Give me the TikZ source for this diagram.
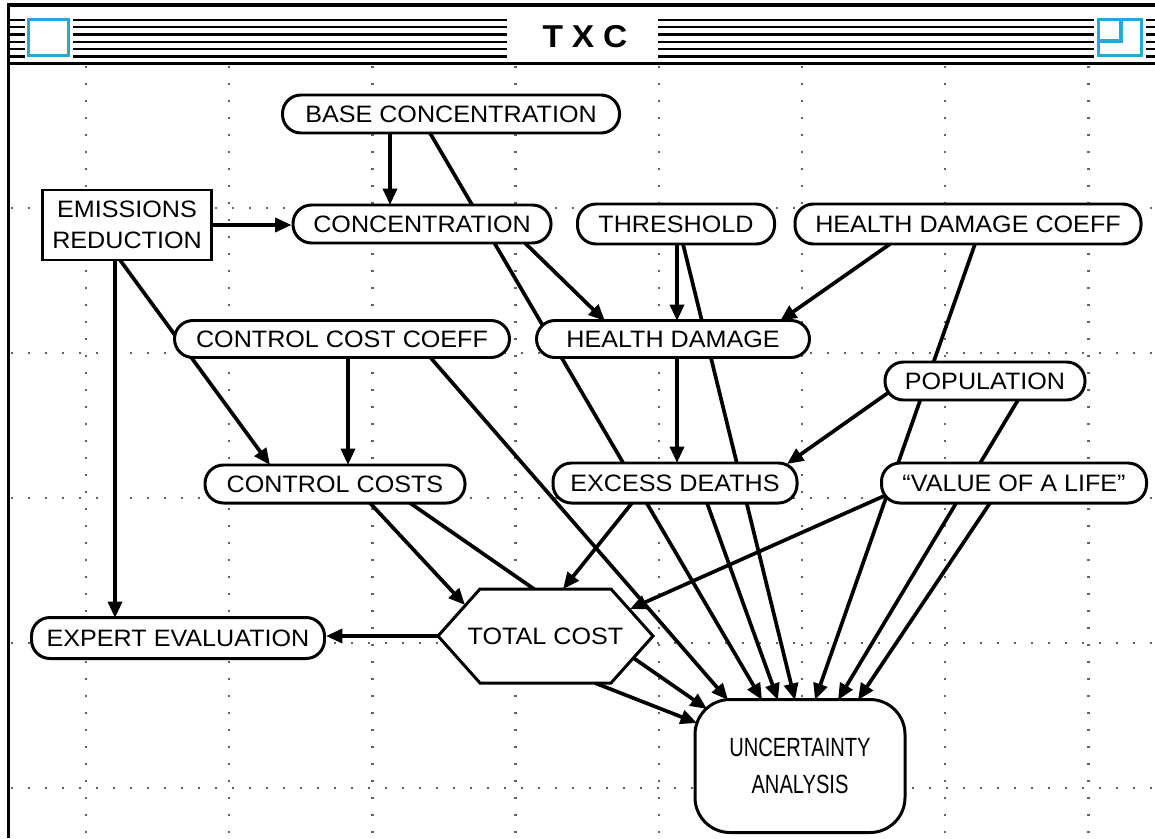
\documentclass[tikz,border=0pt]{standalone}
\usepackage{fontspec}
\setmainfont{Liberation Sans}[FakeStretch=1.06]
\usetikzlibrary{arrows.meta,calc}
\definecolor{iconblue}{RGB}{38,166,218}
\definecolor{dotgray}{RGB}{100,100,100}
\pgfdeclarelayer{gridlayer}
\pgfdeclarelayer{edgelayer}
\pgfsetlayers{gridlayer,edgelayer,main}
\begin{document}
\begin{tikzpicture}[x=0.02cm,y=-0.02cm,
  lbl/.style={font=\fontsize{13.5}{17.5}\selectfont, inner sep=0pt, align=center},
  rbox/.style n args={2}{lbl, draw, line width=1.7pt, fill=white, rounded corners=0.37cm,
     minimum width=#1*0.02cm, minimum height=#2*0.02cm},
  sqbox/.style n args={2}{lbl, draw, line width=1.7pt, fill=white,
     minimum width=#1*0.02cm, minimum height=#2*0.02cm},
  arr/.style={line width=2.1pt, -{Triangle[length=0.33cm,width=0.28cm]}},
  dots/.style={dotgray, line width=0.05cm, dash pattern=on 0.05cm off 0.29cm},
  stripe/.style={line width=0.045cm},
  frame/.style={line width=0.065cm},
  icon/.style={iconblue, line width=0.07cm}
]
\useasboundingbox (0,0) rectangle (1155,838);

% ---------- grid ----------
\begin{pgfonlayer}{gridlayer}
\foreach \gx in {0,...,7} \draw[dots] ({86+143.2*\gx},66) -- ({86+143.2*\gx},838);
\foreach \gy in {0,...,4} \draw[dots] (11,{208+145*\gy}) -- (1155,{208+145*\gy});
\end{pgfonlayer}

% ---------- window frame and title bar ----------
\draw[frame] (8.5,5) -- (1155,5);
\draw[frame] (8.5,3.5) -- (8.5,838);
\draw[frame] (8.5,63.5) -- (1155,63.5);
\foreach \yy in {20,27.3,34.6,41.9,49.2,56.5}
  \draw[stripe] (10,\yy) -- (25,\yy) (73,\yy) -- (507,\yy) (658,\yy) -- (1094,\yy) (1146,\yy) -- (1155,\yy);
\draw[icon, fill=white] (28.5,19.5) rectangle (68.5,55.5);
\draw[icon, fill=white] (1098.5,19.5) rectangle (1141.5,55.5);
\draw[icon] (1098.5,41) -- (1121,41) -- (1121,19.5);
\node[font=\bfseries\fontsize{18}{20}\selectfont, inner sep=0pt] (title) at (585,36.5) {T\hspace{5pt}X\hspace{5pt}C};

% ---------- nodes ----------
\node[sqbox={169}{70}] (er) at (127,225) {EMISSIONS\\REDUCTION};
\node[rbox={337}{38}] (base) at (451,114) {BASE CONCENTRATION};
\node[rbox={258}{38}] (conc) at (422,224) {CONCENTRATION};
\node[rbox={197}{40}] (thr) at (676,224) {THRESHOLD};
\node[rbox={346}{40}] (hdc) at (968,224) {HEALTH DAMAGE COEFF};
\node[rbox={335}{37}] (ccc) at (342,339) {CONTROL COST COEFF};
\node[rbox={273}{37}] (hd) at (673,339) {HEALTH DAMAGE};
\node[rbox={200}{38}] (pop) at (985,381) {POPULATION};
\node[rbox={260}{38}] (cc) at (335,484) {CONTROL COSTS};
\node[rbox={244}{40}] (ed) at (675,483) {EXCESS DEATHS};
\node[rbox={265}{40}] (vol) at (1014,483) {“VALUE OF A LIFE”};
\node[rbox={293}{41}] (ee) at (178,638) {EXPERT EVALUATION};
\draw[line width=1.7pt, fill=white] (438,636) -- (480,589) -- (611,589) -- (653,636) -- (611,683) -- (480,683) -- cycle;
\node[lbl, minimum width=215*0.02cm, minimum height=94*0.02cm] (tc) at (545.5,636) {TOTAL COST};
\node[lbl, font=\fontsize{15}{19}\selectfont, draw, line width=1.7pt, fill=white, rounded corners=0.7cm,
      minimum width=210*0.02cm, minimum height=133*0.02cm] (ua) at (800,766)
      {\scalebox{0.72}[1]{UNCERTAINTY}\\[2pt]\scalebox{0.72}[1]{ANALYSIS}};

% ---------- connectors ----------
\begin{pgfonlayer}{edgelayer}
\draw[arr] (er.east) -- (er.east -| conc.west);
\draw[arr] ($(base)+(-61,19)$) -- ($(conc)+(-32,-19)$);
\draw[arr] ($(base)+(-21,19)$) -- ($(ua)+(-38,-66)$);
\draw[arr] ($(er)+(-7,35)$) -- ($(cc)+(-65,-19)$);
\draw[arr] ($(er)+(-12,35)$) -- ($(ee)+(-63,-20)$);
\draw[arr] ($(conc)+(103,19)$) -- ($(hd)+(-68,-18)$);
\draw[arr] ($(thr)+(1,20)$) -- ($(hd)+(4,-18)$);
\draw[arr] ($(thr)+(7,20)$) -- ($(ua)+(-5,-66)$);
\draw[arr] ($(hdc)+(-78,20)$) -- ($(hd)+(107,-18)$);
\draw[arr] ($(hdc)+(7,20)$) -- ($(ua)+(15,-66)$);
\draw[arr] ($(ccc)+(6,18)$) -- ($(cc)+(13,-19)$);
\draw[arr] ($(ccc)+(88,18)$) -- ($(ua)+(-72,-66)$);
\draw[arr] ($(hd)+(4,18)$) -- ($(ed)+(2,-20)$);
\draw[arr] ($(pop)+(-93,9)$) -- ($(ed)+(112,-19)$);
\draw[arr] ($(pop)+(33,19)$) -- ($(ua)+(38,-66)$);
\draw[arr] ($(cc)+(35,19)$) -- ($(tc)+(-80.5,-31)$);
\draw[arr] ($(cc)+(75,19)$) -- ($(ua)+(-93,-57)$);
\draw[arr] ($(ed)+(-43,20)$) -- ($(tc)+(17.5,-47)$);
\draw[arr] ($(ed)+(32,20)$) -- ($(ua)+(-22,-66)$);
\draw[arr] ($(vol)+(-121,9)$) -- ($(tc)+(84.5,-27)$);
\draw[arr] ($(vol)+(-24,20)$) -- ($(ua)+(58,-66)$);
\draw[arr] (tc.west) -- (tc.west -| ee.east);
\draw[arr] ($(tc)+(49.5,47)$) -- ($(ua)+(-103,-43)$);
\end{pgfonlayer}
\end{tikzpicture}
\end{document}
